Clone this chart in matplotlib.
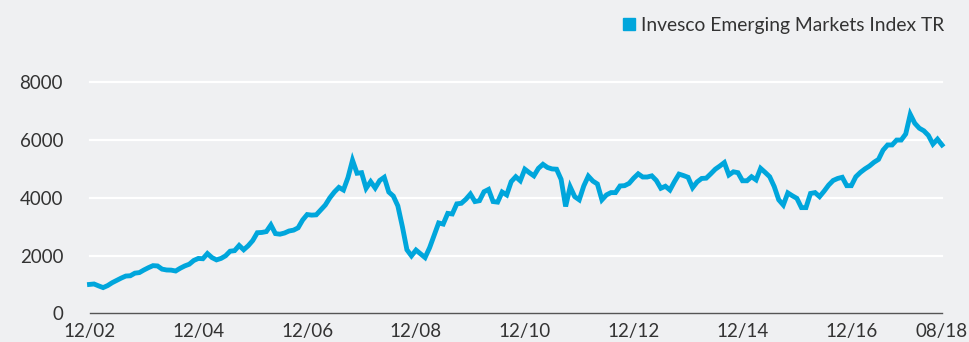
import matplotlib
matplotlib.use("Agg")
import matplotlib.pyplot as plt
from matplotlib.lines import Line2D

plt.rcParams['font.family'] = ['Lato', 'DejaVu Sans']

# Monthly index level, 12/2002 through 08/2018
index_tr = [
    1000, 1015, 950, 890, 960, 1060, 1140, 1220, 1290, 1300,
    1390, 1410, 1500, 1580, 1650, 1640, 1530, 1500, 1495, 1465,
    1560, 1640, 1700, 1830, 1900, 1890, 2070, 1930, 1850, 1900,
    1990, 2150, 2170, 2350, 2200, 2340, 2520, 2790, 2800, 2830,
    3060, 2760, 2740, 2780, 2850, 2880, 2960, 3230, 3420, 3400,
    3410, 3580, 3750, 4000, 4200, 4360, 4270, 4700, 5300, 4850,
    4870, 4330, 4560, 4340, 4600, 4710, 4200, 4060, 3720, 3000,
    2200, 1990, 2190, 2060, 1930, 2270, 2700, 3130, 3090, 3460,
    3440, 3790, 3810, 3950, 4130, 3870, 3900, 4210, 4290, 3870,
    3850, 4200, 4100, 4560, 4730, 4590, 4990, 4870, 4760, 5020,
    5160, 5050, 5000, 4990, 4640, 3700, 4380, 4040, 3930, 4410,
    4750, 4580, 4480, 3930, 4100, 4180, 4180, 4410, 4420, 4500,
    4680, 4830, 4720, 4720, 4760, 4600, 4330, 4400, 4270, 4560,
    4820, 4770, 4710, 4350, 4550, 4670, 4680, 4830, 4990, 5100,
    5220, 4790, 4900, 4870, 4590, 4590, 4730, 4620, 5020, 4880,
    4730, 4390, 3930, 3750, 4170, 4070, 3980, 3660, 3660, 4150,
    4180, 4040, 4230, 4440, 4600, 4670, 4710, 4420, 4420, 4730,
    4880, 5000, 5100, 5230, 5330, 5650, 5830, 5830, 6000, 6000,
    6210, 6890, 6580, 6410, 6320, 6160, 5860, 6030, 5830,
]
months = list(range(len(index_tr)))

x_tick_pos = [0, 24, 48, 72, 96, 120, 144, 168, 188]
x_tick_labels = ["12/02", "12/04", "12/06", "12/08", "12/10",
                 "12/12", "12/14", "12/16", "08/18"]
y_ticks = [0, 2000, 4000, 6000, 8000]

series_name = "Invesco Emerging Markets Index TR"
line_color = "#00a6dc"
bg = "#eff0f2"
text_color = "#333333"

fig = plt.figure(figsize=(9.7, 3.42), dpi=100, facecolor=bg)
ax = fig.add_axes([89.5 / 970, 1 - 313.3 / 342, (942 - 89.5) / 970, (313.3 - 82.3) / 342])
ax.set_facecolor(bg)

ax.plot(months, index_tr, color=line_color, lw=3.5, solid_joinstyle="miter",
        zorder=3, clip_on=False)

ax.set_xlim(0, 188)
ax.set_ylim(0, 8000)
ax.set_yticks(y_ticks)
ax.set_xticks(x_tick_pos)
ax.set_xticklabels(x_tick_labels)

for v in y_ticks[1:]:
    ax.axhline(v, color="white", lw=1.6, zorder=1, clip_on=False)

for s in ["top", "right", "left"]:
    ax.spines[s].set_visible(False)
ax.spines["bottom"].set_color("#555555")
ax.spines["bottom"].set_linewidth(1.0)
ax.spines["bottom"].set_zorder(4)

ax.tick_params(axis="both", length=0, labelsize=13.5, colors=text_color)
ax.tick_params(axis="y", pad=19)
ax.tick_params(axis="x", pad=7)

handle = Line2D([], [], marker="s", linestyle="none", markersize=8.4,
                color=line_color)
leg = fig.legend([handle], [series_name], loc="upper right",
                 bbox_to_anchor=(944 / 970, 1 - 17 / 342), frameon=False,
                 fontsize=13.9, handletextpad=0.2, borderpad=0,
                 borderaxespad=0, handlelength=0.8)
for t in leg.get_texts():
    t.set_color(text_color)

fig.savefig("out.png", dpi=100, facecolor=bg)
